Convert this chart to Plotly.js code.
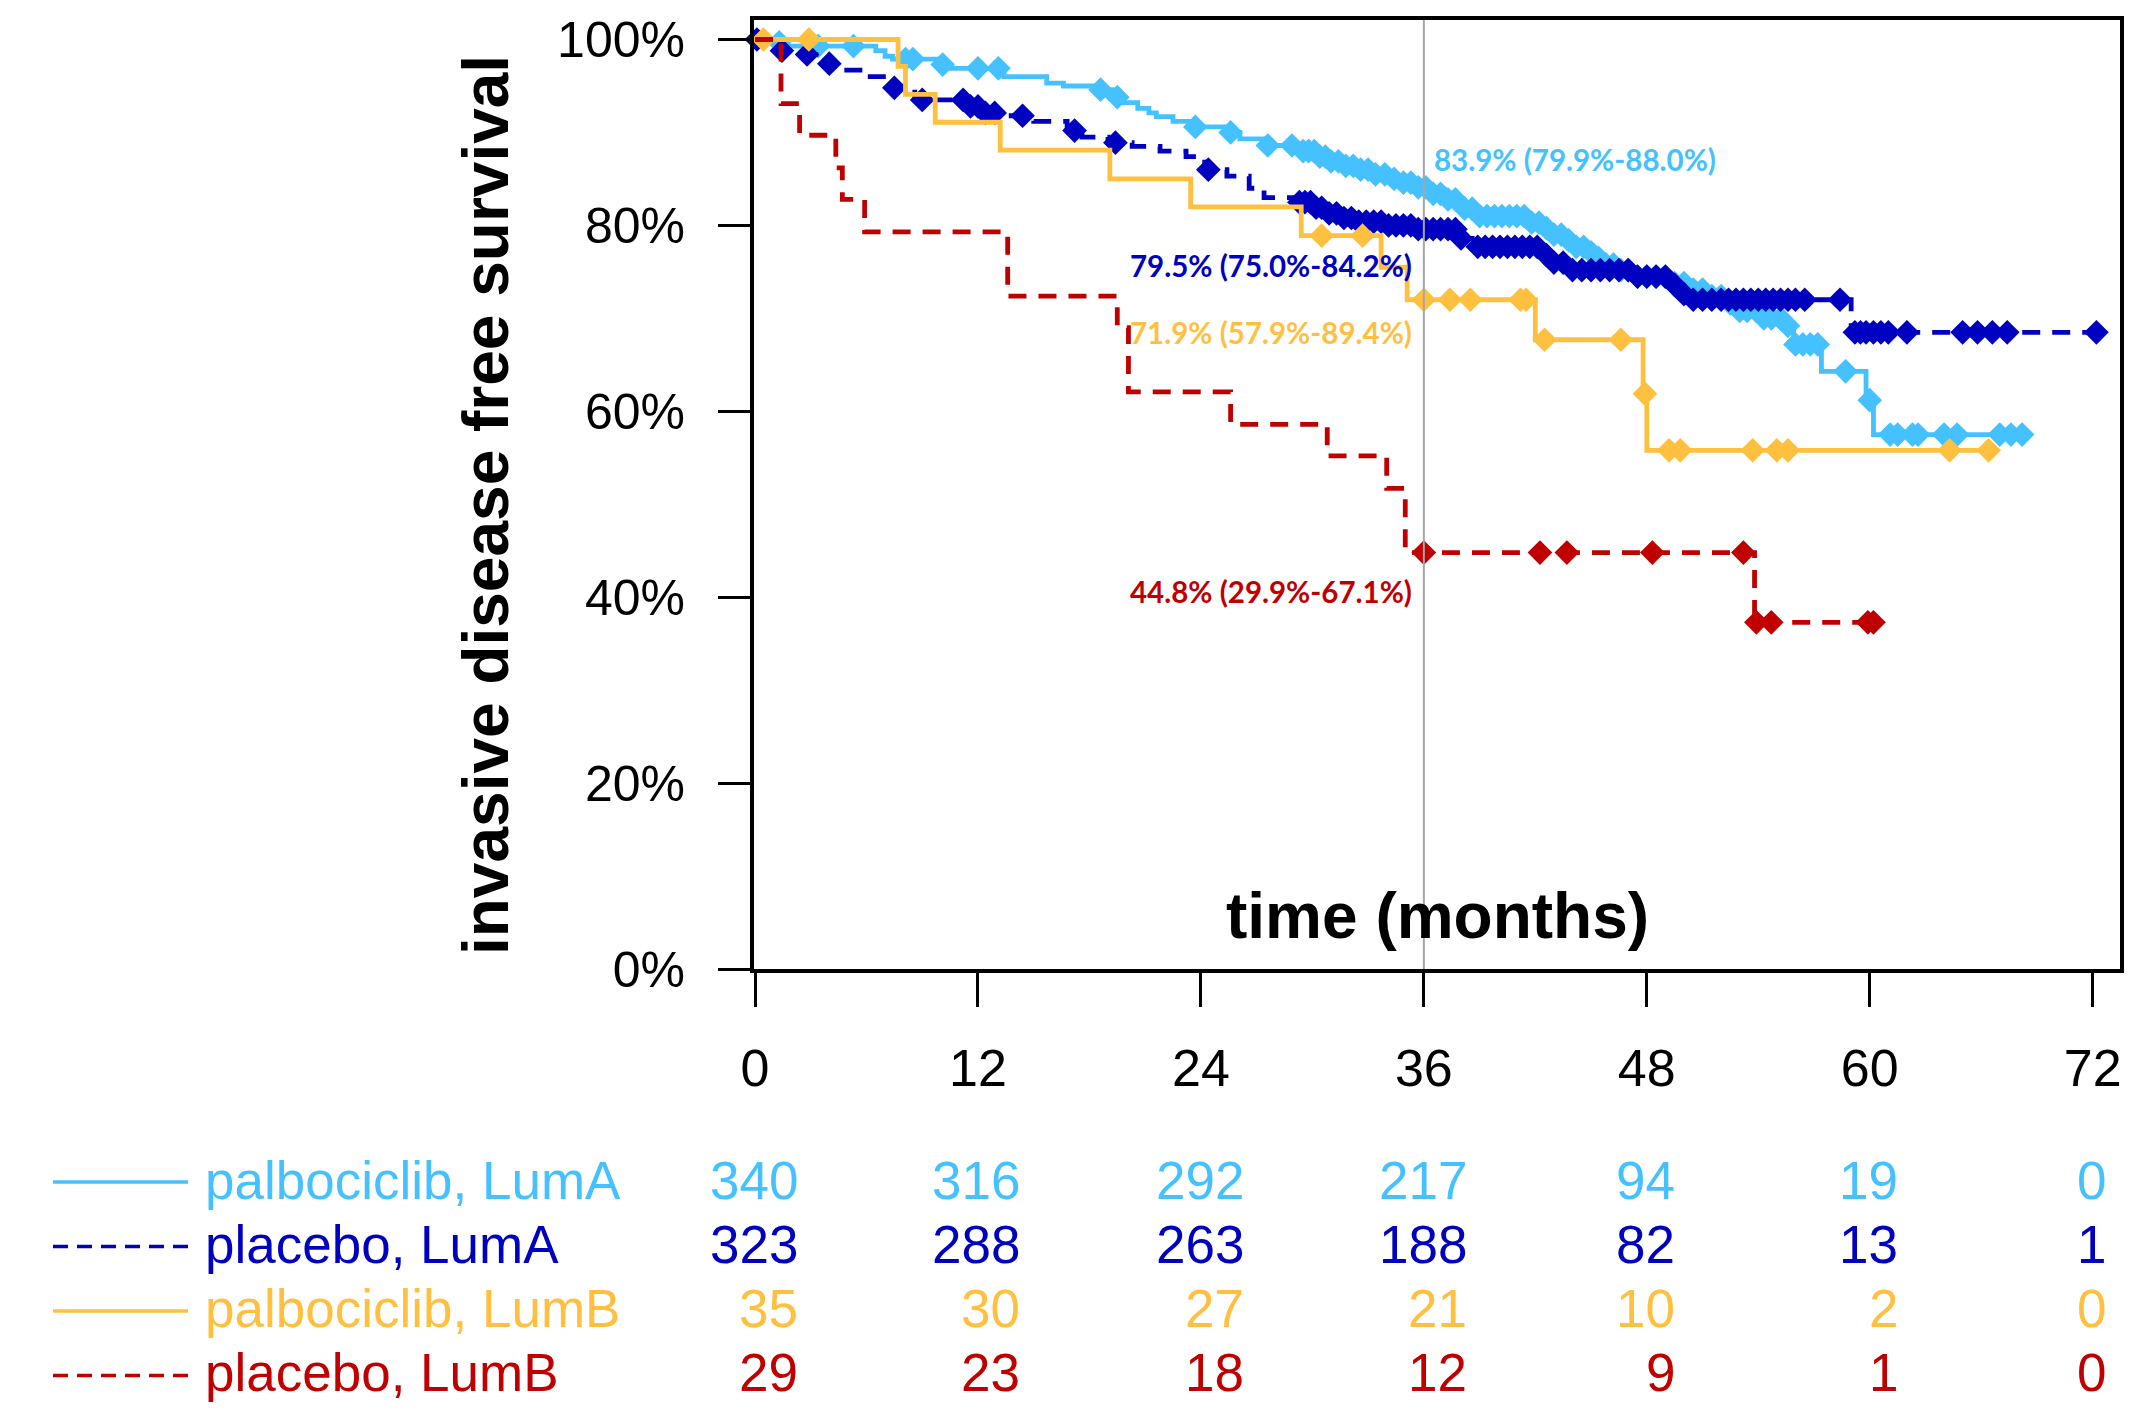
<!DOCTYPE html>
<html>
<head>
<meta charset="utf-8">
<script src="https://cdn.plot.ly/plotly-3.0.1.min.js"></script>
<style>html,body{margin:0;padding:0;background:#fff}#chart{width:2137px;height:1413px}</style>
</head>
<body>
<div id="chart"></div>
<script>
// ---------------- DATA ----------------
const seriesNames = ["palbociclib, LumA", "placebo, LumA", "palbociclib, LumB", "placebo, LumB"];

// palbociclib, LumA : event times (months) and survival after each event
const palboLumA_eventT = [0.6, 1.6, 6.5, 7.0, 7.4, 9.9, 10.4, 13.4, 15.7, 16.6, 18.4, 19.2, 19.8, 20.6, 21.2, 21.6, 22.5, 23.6, 25.5, 26.1, 27.4, 29.4, 30.3, 30.9, 31.6, 32.3, 33.2, 34.0, 34.6, 35.4, 36.3, 37.2, 38.1, 38.9, 41.7, 42.4, 43.0, 43.6, 44.2, 44.8, 45.3, 45.8, 46.5, 47.2, 49.4, 50.4, 51.2, 52.3, 53.0, 54.0, 55.3, 55.9, 57.4, 59.8, 60.2];
const palboLumA_eventS = [0.997, 0.993, 0.988, 0.982, 0.979, 0.973, 0.969, 0.960, 0.953, 0.950, 0.946, 0.938, 0.932, 0.926, 0.921, 0.917, 0.912, 0.906, 0.900, 0.893, 0.886, 0.880, 0.874, 0.869, 0.864, 0.860, 0.855, 0.850, 0.846, 0.841, 0.834, 0.828, 0.818, 0.810, 0.803, 0.797, 0.790, 0.784, 0.777, 0.771, 0.765, 0.758, 0.752, 0.745, 0.738, 0.731, 0.724, 0.716, 0.708, 0.700, 0.692, 0.672, 0.643, 0.612, 0.575];
const palboLumA_censorT = [1.3, 3.4, 5.3, 8.1, 8.5, 10.1, 12.0, 13.1, 18.6, 19.5, 23.7, 25.6, 27.6, 28.9, 29.5, 29.8, 30.1, 30.4, 30.7, 31.0, 31.4, 31.8, 32.2, 32.6, 33.0, 33.4, 33.9, 34.4, 34.9, 35.3, 35.7, 36.1, 36.5, 36.9, 37.3, 37.7, 38.2, 38.6, 39.0, 39.4, 39.8, 40.2, 40.6, 41.0, 41.4, 41.8, 42.2, 42.6, 43.0, 43.4, 43.8, 44.2, 44.6, 45.0, 45.4, 45.8, 46.2, 46.6, 47.0, 47.5, 48.0, 48.5, 49.0, 49.5, 50.0, 50.5, 51.0, 51.5, 52.0, 52.5, 53.0, 53.4, 53.9, 54.3, 54.7, 55.2, 55.6, 56.0, 56.4, 56.8, 57.2, 58.7, 60.0, 61.1, 61.5, 62.3, 62.6, 64.0, 64.7, 67.0, 67.6, 68.2];

// placebo, LumA
const placeboLumA_eventT = [0.8, 2.5, 3.6, 4.6, 6.2, 7.2, 8.6, 11.3, 12.2, 13.6, 15.0, 16.8, 17.6, 19.0, 20.3, 21.8, 23.2, 23.9, 24.3, 25.4, 26.6, 27.4, 29.3, 30.0, 30.8, 31.6, 32.3, 34.0, 35.5, 37.9, 38.6, 42.3, 43.0, 44.0, 47.3, 49.1, 49.8, 50.4, 59.0];
const placeboLumA_eventS = [0.988, 0.984, 0.974, 0.967, 0.960, 0.948, 0.935, 0.928, 0.921, 0.918, 0.912, 0.902, 0.895, 0.889, 0.885, 0.880, 0.874, 0.868, 0.860, 0.853, 0.840, 0.830, 0.825, 0.819, 0.813, 0.808, 0.804, 0.800, 0.796, 0.786, 0.777, 0.768, 0.760, 0.752, 0.745, 0.736, 0.726, 0.720, 0.685];
const placeboLumA_censorT = [0.1, 1.45, 2.8, 4.0, 7.5, 9.0, 11.2, 11.6, 12.0, 12.4, 12.9, 14.4, 17.2, 19.4, 24.4, 29.3, 29.6, 29.9, 30.2, 30.5, 30.9, 31.3, 31.7, 32.1, 32.5, 32.9, 33.3, 33.7, 34.1, 34.5, 34.9, 35.3, 35.7, 36.1, 36.5, 36.9, 37.3, 37.7, 38.0, 38.9, 39.3, 39.7, 40.1, 40.5, 40.9, 41.3, 41.7, 42.1, 42.6, 43.0, 43.5, 44.0, 44.5, 45.0, 45.5, 46.0, 46.5, 47.0, 47.5, 48.0, 48.5, 49.0, 49.5, 50.0, 50.5, 51.0, 51.5, 52.0, 52.4, 52.8, 53.2, 53.6, 54.0, 54.4, 54.8, 55.2, 55.6, 56.0, 56.5, 58.4, 59.2, 59.5, 59.8, 60.2, 60.6, 61.0, 62.0, 65.0, 65.8, 66.6, 67.4, 72.2];

// palbociclib, LumB
const palboLumB_eventT = [7.7, 8.1, 9.7, 13.2, 19.1, 23.45, 29.4, 33.7, 35.1, 42.0, 47.8, 48.0];
const palboLumB_eventS = [0.971, 0.941, 0.911, 0.881, 0.850, 0.820, 0.789, 0.755, 0.720, 0.677, 0.619, 0.558];
const palboLumB_censorT = [0.45, 2.9, 30.5, 32.7, 36.0, 37.4, 38.5, 41.2, 41.5, 42.5, 46.6, 47.9, 49.2, 49.8, 53.7, 55.0, 55.6, 64.3, 66.4];

// placebo, LumB
const placeboLumB_eventT = [1.4, 2.4, 4.35, 4.7, 5.9, 13.6, 19.5, 20.1, 25.6, 30.8, 34.0, 35.0, 53.8];
const placeboLumB_eventS = [0.931, 0.897, 0.862, 0.828, 0.793, 0.724, 0.690, 0.621, 0.586, 0.552, 0.517, 0.448, 0.373];
const placeboLumB_censorT = [36.0, 42.25, 43.7, 48.3, 53.2, 53.9, 54.7, 59.9, 60.2];

// numbers at risk
const riskTimes = [0, 12, 24, 36, 48, 60, 72];
const riskPalboLumA = [340, 316, 292, 217, 94, 19, 0];
const riskPlaceboLumA = [323, 288, 263, 188, 82, 13, 1];
const riskPalboLumB = [35, 30, 27, 21, 10, 2, 0];
const riskPlaceboLumB = [29, 23, 18, 12, 9, 1, 0];

// 36-month estimates
const estimates36 = ["83.9% (79.9%-88.0%)", "79.5% (75.0%-84.2%)", "71.9% (57.9%-89.4%)", "44.8% (29.9%-67.1%)"];

const xTickVals = [0, 12, 24, 36, 48, 60, 72];
const yTickVals = [0, 0.2, 0.4, 0.6, 0.8, 1.0];
const yTickText = ["0%", "20%", "40%", "60%", "80%", "100%"];
const yAxisTitle = "invasive disease free survival";
const xAxisTitle = "time (months)";

// ---------------- STYLE ----------------
const colors = ["#45C1FF", "#0000C0", "#FFC040", "#C00000"];
const dashes = ["solid", "18px,12px", "solid", "18px,12px"];
const widths = [4.8, 4.8, 4.8, 4.8];
const ARIAL = "Liberation Sans, Arial, sans-serif";
const CAL = "Lato, Carlito, Calibri, sans-serif";

const series = [
  {T: palboLumA_eventT, S: palboLumA_eventS, C: palboLumA_censorT, risk: riskPalboLumA},
  {T: placeboLumA_eventT, S: placeboLumA_eventS, C: placeboLumA_censorT, risk: riskPlaceboLumA},
  {T: palboLumB_eventT, S: palboLumB_eventS, C: palboLumB_censorT, risk: riskPalboLumB},
  {T: placeboLumB_eventT, S: placeboLumB_eventS, C: placeboLumB_censorT, risk: riskPlaceboLumB}
];

function stepValue(ts, ss, t) {
  let v = 1;
  for (let i = 0; i < ts.length; i++) { if (ts[i] <= t) v = ss[i]; else break; }
  return v;
}

const traces = [];
series.forEach((s, i) => {
  const end = Math.max(s.T[s.T.length - 1], ...s.C);
  traces.push({
    x: [0, ...s.T, end], y: [1, ...s.S, s.S[s.S.length - 1]],
    mode: "lines", line: {shape: "hv", color: colors[i], width: widths[i], dash: dashes[i]},
    hoverinfo: "skip", showlegend: false, name: seriesNames[i]
  });
  traces.push({
    x: s.C, y: s.C.map(t => stepValue(s.T, s.S, t)),
    mode: "markers", marker: {symbol: "diamond", size: 19, color: colors[i], line: {width: 0}},
    hoverinfo: "skip", showlegend: false, name: seriesNames[i] + " censored", cliponaxis: false
  });
});

// pixel geometry of the plot area
const L = 754, R = 2120, T = 20, B = 969;
const px2x = px => (px - L) / (R - L);
const py2y = py => (B - py) / (B - T);

const annotations = [];
const shapes = [];

// axis titles
annotations.push({xref: "paper", yref: "paper", x: px2x(486), y: py2y(505), text: yAxisTitle, textangle: -90,
  showarrow: false, xanchor: "center", yanchor: "middle", font: {family: ARIAL, size: 64, color: "#000", weight: 700}});
annotations.push({xref: "paper", yref: "paper", x: 0.5, y: py2y(916), text: xAxisTitle,
  showarrow: false, xanchor: "center", yanchor: "middle", font: {family: ARIAL, size: 64, color: "#000", weight: 700}});

// 36-month estimates
const estPos = [{y: 0.871, anchor: "left", shift: 8}, {y: 0.757, anchor: "right", shift: -10},
                {y: 0.685, anchor: "right", shift: -10}, {y: 0.406, anchor: "right", shift: -10}];
estimates36.forEach((txt, i) => {
  annotations.push({xref: "x", yref: "y", x: 36, y: estPos[i].y, text: txt, showarrow: false,
    xanchor: estPos[i].anchor, yanchor: "middle", xshift: estPos[i].shift,
    font: {family: CAL, size: 29.5, color: colors[i], weight: 700}});
});

// vertical reference line at 36 months
shapes.push({type: "line", xref: "x", yref: "paper", x0: 36, x1: 36, y0: 0, y1: 1,
  line: {color: "#A6A6A6", width: 2}, layer: "above"});

// risk table + legend
const rowY = [1180, 1244, 1308, 1372];
const lineY = [1182, 1246.5, 1311, 1375.5];
const colShift = [45, 44, 45, 45, 30, 30, 15];
series.forEach((s, r) => {
  shapes.push({type: "line", xref: "paper", yref: "paper", x0: px2x(53), x1: px2x(188), y0: py2y(lineY[r]), y1: py2y(lineY[r]),
    line: {color: colors[r], width: 3.5, dash: dashes[r] === "solid" ? "solid" : "15px,9px"}});
  annotations.push({xref: "paper", yref: "paper", x: px2x(203), y: py2y(rowY[r]), text: seriesNames[r], showarrow: false,
    xanchor: "left", yanchor: "middle", font: {family: ARIAL, size: 53, color: colors[r]}});
  s.risk.forEach((n, c) => {
    annotations.push({xref: "x", yref: "paper", x: riskTimes[c], y: py2y(rowY[r]), text: String(n), showarrow: false,
      xanchor: "right", yanchor: "middle", xshift: colShift[c], font: {family: ARIAL, size: 53, color: colors[r]}});
  });
});

const layout = {
  width: 2137, height: 1413,
  margin: {l: L, r: 2137 - R, t: T, b: 1413 - B, pad: 0},
  paper_bgcolor: "#fff", plot_bgcolor: "#fff",
  showlegend: false,
  xaxis: {range: [-0.054, 73.47], tickvals: xTickVals, ticktext: xTickVals.map(String),
    ticks: "outside", ticklen: 34, tickwidth: 3, tickcolor: "#000",
    showline: true, linewidth: 4, linecolor: "#000", mirror: true,
    showgrid: false, zeroline: false, ticklabelstandoff: 17,
    tickfont: {family: ARIAL, size: 52, color: "#000"}},
  yaxis: {range: [0, 1.021], tickvals: yTickVals, ticktext: yTickText,
    ticks: "outside", ticklen: 32, tickwidth: 3, tickcolor: "#000",
    showline: true, linewidth: 4, linecolor: "#000", mirror: true,
    showgrid: false, zeroline: false, ticklabelstandoff: 23,
    tickfont: {family: ARIAL, size: 50, color: "#000"}},
  annotations: annotations,
  shapes: shapes
};

Plotly.newPlot("chart", traces, layout, {staticPlot: true, displayModeBar: false});
</script>
</body>
</html>
